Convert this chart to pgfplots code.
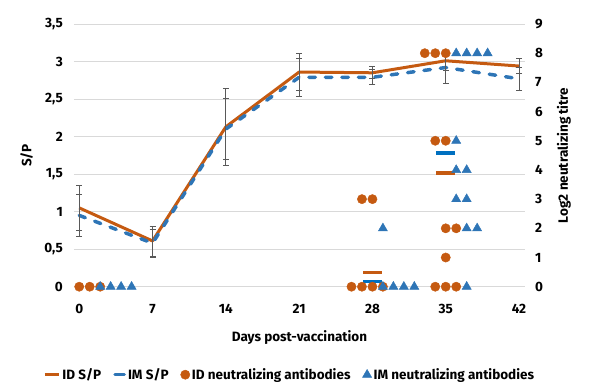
\documentclass[border=0pt]{standalone}
\usepackage{pgfplots}
\pgfplotsset{compat=1.18}
\usepackage{pgfplotstable}
\usepackage{fontspec}
\setmainfont{Fira Sans}
\definecolor{idor}{RGB}{197,90,17}
\definecolor{imbl}{RGB}{46,117,182}
\definecolor{imbar}{RGB}{0,112,192}
\definecolor{gridc}{RGB}{217,217,217}
\definecolor{errc}{RGB}{89,89,89}

\pgfplotstableread{
x y e
0 1.05 0.30
7 0.61 0.20
14 2.13 0.51
21 2.86 0.25
28 2.85 0.08
35 3.01 0.13
42 2.94 0.10
}\idsp
\pgfplotstableread{
x y e
0 0.95 0.28
7 0.58 0.19
14 2.10 0.41
21 2.79 0.25
28 2.79 0.10
35 2.92 0.21
42 2.77 0.15
}\imsp
\pgfplotstableread{
x y
0 0
1 0
2 0
26 0
27 0
28 0
29 0
27 3
28 3
33 8
34 8
35 8
34 5
35 5
35 2
36 2
35 1
34 0
35 0
36 0
}\idna
\pgfplotstableread{
x y
2 0
3 0
4 0
5 0
29 0
30 0
31 0
32 0
29 2
36 8
37 8
38 8
39 8
36 5
36 4
37 4
36 3
37 3
37 2
38 2
37 0
}\imna

\newcommand{\lblfont}{\fontsize{13.5bp}{16bp}\selectfont\bfseries}

\pgfplotsset{
  lineimgA/.style={legend image code/.code={\draw[##1, line cap=butt] (0bp,0bp) -- (14bp,0bp);}},
  lineimgB/.style={legend image code/.code={\draw[##1, line cap=round] (1.75bp,0bp) -- (11bp,0bp);}},
  markimg/.style={legend image code/.code={\draw[##1] plot coordinates {(6bp,0bp)};}},
  common/.style={
    scale only axis, width=451bp, height=262.7bp,
    xmin=-0.5, xmax=42.57,
    axis line style={draw=none},
    major tick length=0pt,
    clip=false,
    tick label style={font=\lblfont},
    label style={font=\lblfont},
    /pgf/number format/assume math mode=true,
  }
}

\begin{document}
\begin{tikzpicture}
\begin{axis}[common,
  ymin=0, ymax=3.5, ytick={0,0.5,1,1.5,2,2.5,3,3.5},
  ymajorgrids, grid style={gridc, line width=1bp},
  xtick={0,7,14,21,28,35,42},
  yticklabel style={anchor=east, inner sep=0pt, xshift=-11bp, /pgf/number format/use comma},
  xticklabel style={anchor=north, inner sep=0pt, yshift=-17bp},
  xlabel={Days post-vaccination},
  xlabel style={at={(axis description cs:0.5,0)}, anchor=center, yshift=-51bp},
  ylabel={S/P},
  ylabel style={at={(axis description cs:0,0.5)}, anchor=center, yshift=47.5bp},
]
\addplot[idor, line width=3bp, line join=round] table[x=x,y=y] {\idsp};
\addplot[imbl, line width=3.5bp, line cap=round, dash pattern=on 6.5bp off 10bp] table[x=x,y=y] {\imsp};
\addplot[draw=none, mark=none, forget plot, error bars/.cd, y dir=both, y explicit,
  error bar style={draw=errc, solid, line width=0.8bp},
  error mark options={draw=errc, solid, rotate=90, mark size=3bp, line width=0.8bp}]
  table[x=x,y=y,y error=e] {\idsp};
\addplot[draw=none, mark=none, forget plot, error bars/.cd, y dir=both, y explicit,
  error bar style={draw=errc, solid, line width=0.8bp},
  error mark options={draw=errc, solid, rotate=90, mark size=3bp, line width=0.8bp}]
  table[x=x,y=y,y error=e] {\imsp};
\end{axis}

\begin{axis}[common,
  ymin=0, ymax=9, ytick={0,1,2,3,4,5,6,7,8,9},
  xtick=\empty,
  yticklabel pos=right,
  yticklabel style={anchor=west, inner sep=0pt, xshift=10bp},
  ylabel={Log2 neutralizing titre},
  ylabel style={at={(axis description cs:1,0.5)}, anchor=center, yshift=-39bp},
  legend columns=4,
  legend style={at={(axis description cs:0.4785,-0.335)}, anchor=center,
    draw=none, fill=none, font=\lblfont, inner sep=0pt,
    nodes={inner sep=2bp},
    /tikz/every even column/.append style={column sep=10bp}},
]
\addlegendimage{idor, line width=3bp, lineimgA}
\addlegendentry{ID S/P}
\addlegendimage{imbl, line width=3.5bp, lineimgB}
\addlegendentry{IM S/P}
\addplot[only marks, mark=*, mark size=4.65bp, mark options={draw=idor, fill=idor}, markimg]
  table[x=x,y=y] {\idna};
\addlegendentry{ID neutralizing antibodies}
\addplot[only marks, mark=triangle*, mark size=5.3bp, mark options={draw=imbl, fill=imbl}, markimg]
  table[x=x,y=y] {\imna};
\addlegendentry{IM neutralizing antibodies}
\addplot[idor, line width=3.3bp, forget plot] coordinates {(27.1,0.49) (28.9,0.49)};
\addplot[imbar, line width=3.3bp, forget plot] coordinates {(27.1,0.17) (28.9,0.17)};
\addplot[idor, line width=3.3bp, forget plot] coordinates {(34.05,3.9) (35.9,3.9)};
\addplot[imbar, line width=3.3bp, forget plot] coordinates {(34.05,4.58) (35.9,4.58)};
\end{axis}
\pgfresetboundingbox
\path[use as bounding box] (-74bp,-104.3bp) rectangle (529bp,286.7bp);
\end{tikzpicture}
\end{document}
